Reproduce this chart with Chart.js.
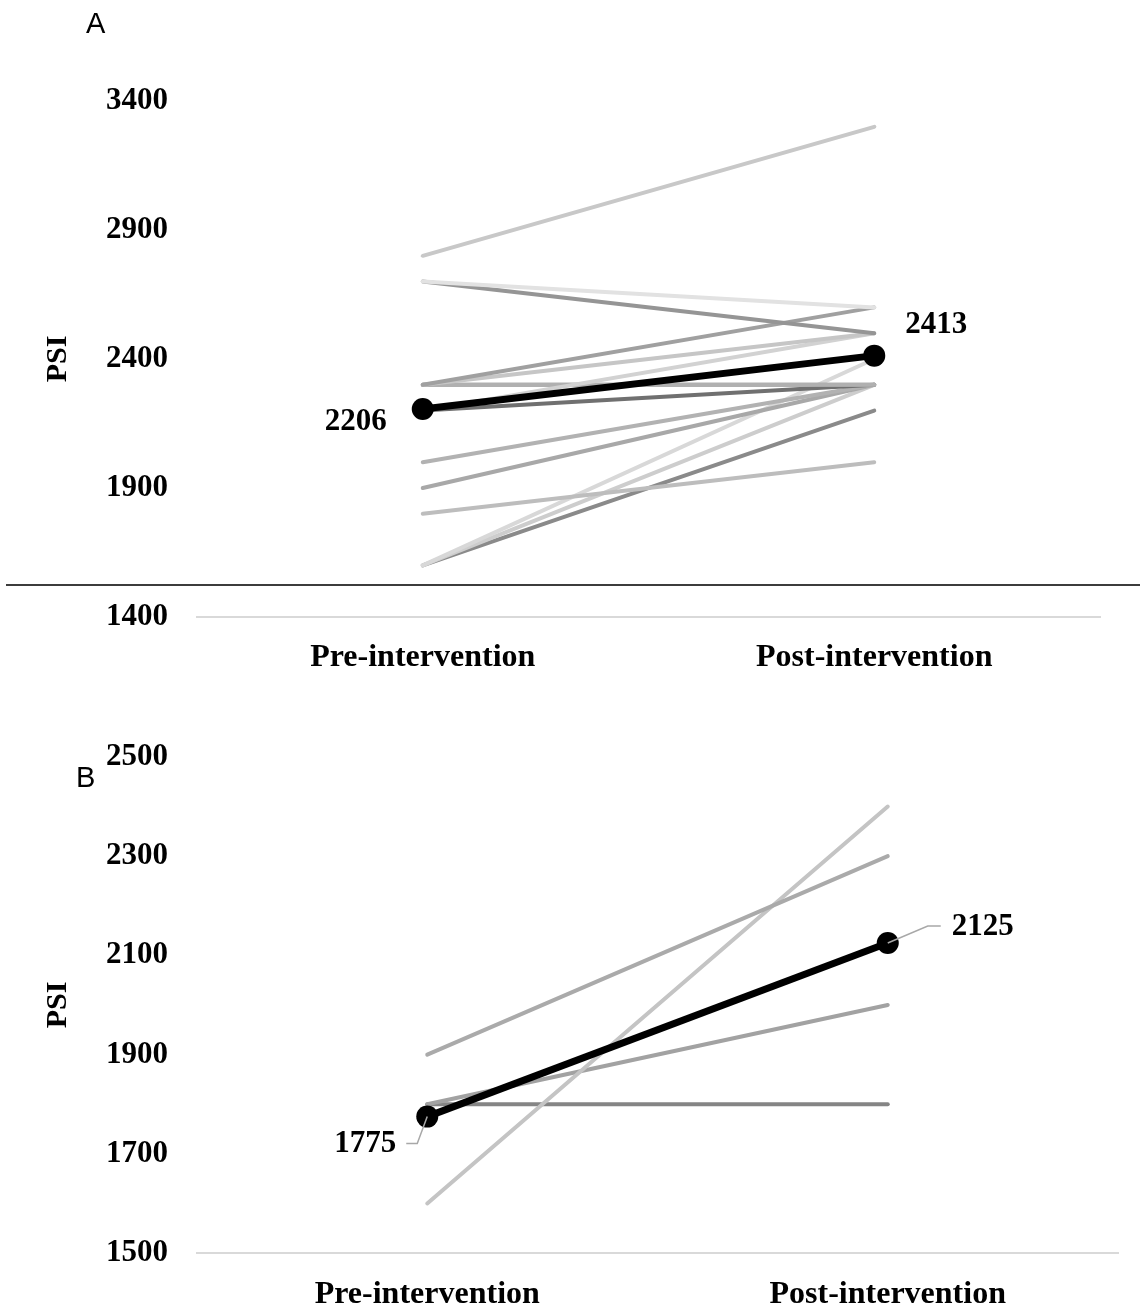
<!DOCTYPE html>
<html>
<head>
<meta charset="utf-8">
<script src="https://cdn.jsdelivr.net/npm/chart.js@4.4.1/dist/chart.umd.min.js"></script>
<style>
  body { margin: 0; background: #fff; width: 1140px; height: 1310px; position: relative; overflow: hidden; }
  .panel { position: absolute; left: 0; width: 1140px; }
  .tag { position: absolute; font-family: 'Liberation Sans', Arial, sans-serif; font-size: 29px; color: #000; }
  #rule { position: absolute; left: 6px; top: 584px; width: 1134px; height: 2px; background: #3c3c3c; }
</style>
</head>
<body>
<div class="panel" style="top:0;height:690px"><canvas id="chartA"></canvas></div>
<div class="panel" style="top:690px;height:620px"><canvas id="chartB"></canvas></div>
<div class="tag" style="left:86px;top:7px">A</div>
<div class="tag" style="left:76px;top:761px">B</div>
<div id="rule"></div>
<script>
// categories shared by both panels
const categories = ['Pre-intervention', 'Post-intervention'];

// panel A - individual participants (pre / post) and the group mean
const preA  = [2800, 2700, 2700, 2300, 2300, 2200, 2300, 2300, 2200, 2000, 1900, 1800, 1600, 1600, 1600];
const postA = [3300, 2600, 2500, 2600, 2500, 2500, 2300, 2300, 2300, 2300, 2300, 2000, 2400, 2300, 2200];
const meanA = [2206, 2413];
const greysA = ['#c8c8c8', '#e2e2e2', '#959595', '#a0a0a0', '#c6c6c6', '#d2d2d2', '#b0b0b0', '#9c9c9c',
                '#707070', '#b2b2b2', '#a8a8a8', '#bdbdbd', '#d8d8d8', '#cdcdcd', '#8a8a8a'];

// panel B
const preB  = [1900, 1600, 1800, 1800];
const postB = [2300, 2400, 2000, 1800];
const meanB = [1775, 2125];
const greysB = ['#aaaaaa', '#c4c4c4', '#a2a2a2', '#858585'];

const serif = "'Liberation Serif', 'Times New Roman', serif";

// draws the mean value next to each mean point, with an optional leader line
const meanLabels = {
    id: 'meanLabels',
    afterDatasetsDraw(chart, args, opts) {
        const ctx = chart.ctx;
        const meta = chart.getDatasetMeta(0);
        opts.items.forEach(item => {
            const pt = meta.data[item.index];
            ctx.save();
            if (item.leader) {
                ctx.strokeStyle = '#a8a8a8';
                ctx.lineWidth = 1.5;
                ctx.beginPath();
                ctx.moveTo(pt.x, pt.y);
                item.leader.forEach(p => ctx.lineTo(pt.x + p[0], pt.y + p[1]));
                ctx.stroke();
            }
            ctx.fillStyle = '#000';
            ctx.font = 'bold 31px ' + serif;
            ctx.textAlign = item.align;
            ctx.textBaseline = 'middle';
            ctx.fillText(String(opts.values[item.index]), pt.x + item.dx, pt.y + item.dy);
            ctx.restore();
        });
    }
};

function buildDatasets(mean, pre, post, greys) {
    let sets = [{
        data: mean,
        borderColor: '#000',
        borderWidth: 7,
        pointRadius: 11,
        pointHoverRadius: 11,
        pointBackgroundColor: '#000',
        pointBorderWidth: 0
    }];
    for (let i = 0; i < pre.length; i++) {
        sets.push({
            data: [pre[i], post[i]],
            borderColor: greys[i],
            borderWidth: 4,
            borderCapStyle: 'round',
            pointRadius: 0
        });
    }
    return sets;
}

function makeChart(id, cfg) {
    return new Chart(document.getElementById(id), {
        type: 'line',
        data: { labels: categories, datasets: buildDatasets(cfg.mean, cfg.pre, cfg.post, cfg.greys) },
        plugins: [meanLabels],
        options: {
            responsive: true,
            maintainAspectRatio: false,
            animation: false,
            events: [],
            layout: { padding: { top: cfg.padTop, right: cfg.padRight, left: 0, bottom: 0 } },
            plugins: {
                legend: { display: false },
                tooltip: { enabled: false },
                meanLabels: { values: cfg.mean, items: cfg.labels }
            },
            scales: {
                x: {
                    offset: true,
                    grid: { display: false, drawTicks: false },
                    border: { display: true, color: '#d9d9d9', width: 2 },
                    ticks: { color: '#000', padding: cfg.xPad, font: { family: serif, size: 32, weight: 'bold' } },
                    afterFit: s => { s.height = cfg.xHeight; }
                },
                y: {
                    min: cfg.min,
                    max: cfg.max,
                    ticks: {
                        stepSize: cfg.step,
                        color: '#000',
                        padding: 29,
                        font: { family: serif, size: 31, weight: 'bold' },
                        callback: v => String(v)
                    },
                    grid: { display: false, drawTicks: false },
                    border: { display: false },
                    title: {
                        display: true,
                        text: 'PSI',
                        color: '#000',
                        padding: { top: 40, bottom: 0 },
                        font: { family: serif, size: 30, weight: 'bold' }
                    },
                    afterFit: s => { s.width = 197; }
                }
            }
        }
    });
}

let chartA = makeChart('chartA', {
    mean: meanA, pre: preA, post: postA, greys: greysA,
    min: 1400, max: 3400, step: 500,
    padTop: 101, padRight: 40, xHeight: 73, xPad: 22,
    labels: [
        { index: 0, dx: -36, dy: 13, align: 'right' },
        { index: 1, dx: 31, dy: -31, align: 'left' }
    ]
});

let chartB = makeChart('chartB', {
    mean: meanB, pre: preB, post: postB, greys: greysB,
    min: 1500, max: 2500, step: 200,
    padTop: 67, padRight: 22, xHeight: 57, xPad: 23,
    labels: [
        { index: 0, dx: -31, dy: 27, align: 'right', leader: [[-10, 27], [-21, 27]] },
        { index: 1, dx: 64, dy: -16, align: 'left', leader: [[40, -17], [53, -17]] }
    ]
});
</script>
</body>
</html>
